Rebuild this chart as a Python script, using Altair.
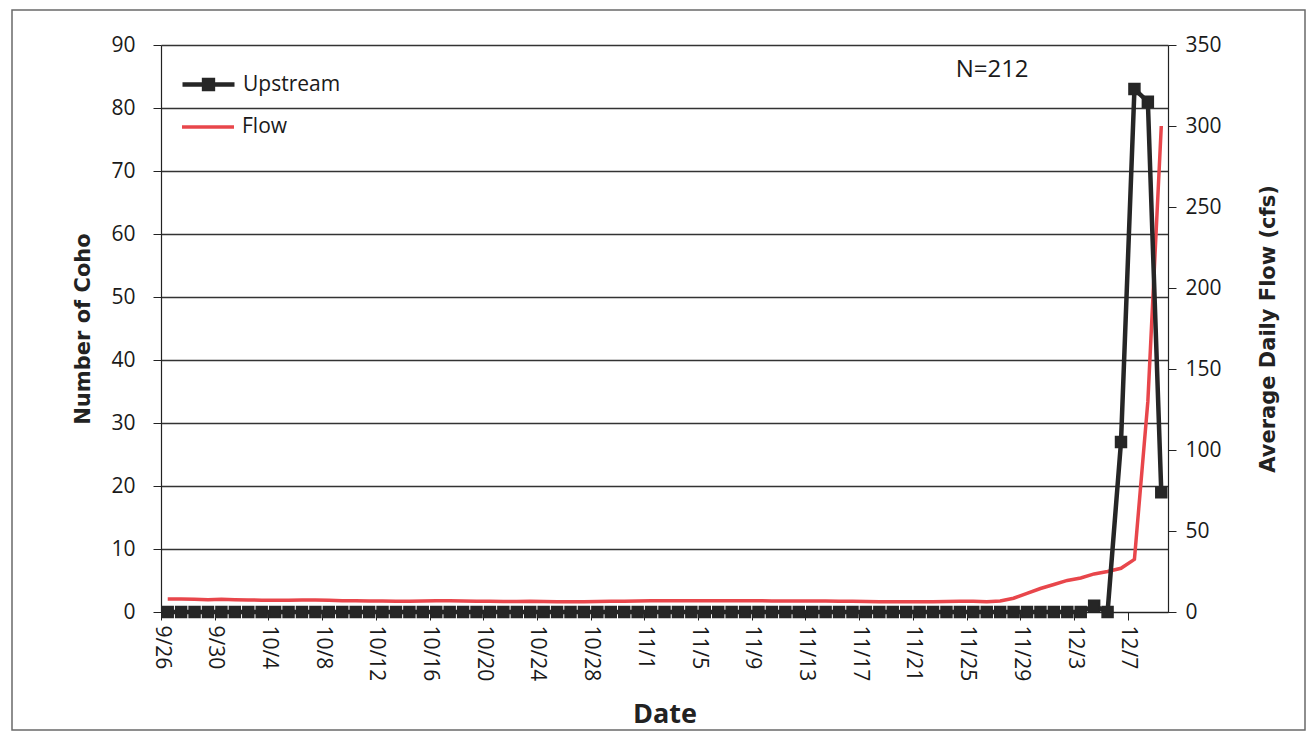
import json
import altair as alt
import pandas as pd

# ---------------- data ----------------
start = pd.Timestamp("2013-09-26")
n_days = 75
dates = [start + pd.Timedelta(days=i) for i in range(n_days)]
date_labels = [f"{d.month}/{d.day}" for d in dates]

upstream = [0] * 69 + [1, 0, 27, 83, 81, 19]

flow = [8.0, 8.0, 7.8, 7.6, 7.8, 7.6, 7.4, 7.3, 7.3, 7.2,
        7.4, 7.4, 7.2, 7.0, 7.0, 6.8, 6.8, 6.7, 6.7, 6.8,
        7.0, 7.0, 6.8, 6.6, 6.6, 6.5, 6.5, 6.6, 6.5, 6.4,
        6.4, 6.4, 6.5, 6.6, 6.7, 6.8, 7.0, 7.0, 7.0, 7.0,
        7.0, 7.0, 7.0, 7.0, 7.0, 6.8, 6.8, 6.8, 6.8, 6.8,
        6.6, 6.6, 6.5, 6.4, 6.4, 6.3, 6.3, 6.4, 6.5, 6.6,
        6.6, 6.4, 6.8, 8.5, 11.5, 14.5, 17.0, 19.5, 21.0, 23.5,
        25.0, 27.0, 32.5, 130.0, 300.0]

tick_days = list(range(0, 73, 4))
tick_labels = [date_labels[i] for i in tick_days]

note_text = ["N=212"]
note_day = [61.9]
note_count = [86]

df = pd.DataFrame({
    "day": [i + 0.5 for i in range(n_days)],   # centre of each daily category
    "date": date_labels,
    "upstream": upstream,
    "flow": flow,
    "s_up": "Upstream",
    "s_flow": "Flow",
})
note_df = pd.DataFrame({"day": note_day, "count": note_count, "text": note_text})

# ---------------- styles ----------------
BLACK = "#262626"
RED = "#e8464b"
FONT = "Open Sans"
TITLE_FONT = "DejaVu Sans"
W, H = 1007, 567

label_expr = json.dumps(tick_labels) + "[round(datum.value / 4)]"

x_enc = alt.X(
    "day:Q",
    scale=alt.Scale(domain=[0, n_days], nice=False, zero=False),
    axis=alt.Axis(
        values=tick_days, labelExpr=label_expr, labelAngle=90,
        labelFont=FONT, labelFontSize=21, labelColor="#1a1a1a", labelPadding=5,
        labelAlign="left", labelBaseline="middle",
        tickSize=8, tickColor="#222", domainColor="#222", domainWidth=1.2,
        grid=False, title="Date", titleFont=FONT, titleFontSize=27,
        titleFontWeight="bold", titleColor="#222",
        titleX=W / 2, titleY=102, titleAlign="center", titleBaseline="middle",
    ),
)

left_axis = alt.Axis(
    values=list(range(0, 91, 10)), grid=True, gridColor="#333333", gridWidth=1.4,
    labelFont=FONT, labelFontSize=21, labelColor="#1a1a1a", labelPadding=18,
    tickSize=8, tickColor="#222", domainColor="#222", domainWidth=1.2,
    title="Number of Coho", titleFont=TITLE_FONT, titleFontSize=21,
    titleFontWeight="bold", titleColor="#222",
    titleX=-78, titleY=H / 2, titleAngle=-90, titleAlign="center", titleBaseline="middle",
)

right_axis = alt.Axis(
    orient="right", values=list(range(0, 351, 50)), grid=False,
    labelFont=FONT, labelFontSize=21, labelColor="#1a1a1a", labelPadding=9,
    tickSize=8, tickColor="#222", domainColor="#222", domainWidth=1.2,
    title="Average Daily Flow (cfs)", titleFont=TITLE_FONT, titleFontSize=21,
    titleFontWeight="bold", titleColor="#222",
    titleX=100, titleY=H / 2, titleAngle=-90, titleAlign="center", titleBaseline="middle",
)

y_left_scale = alt.Scale(domain=[0, 90], nice=False)
y_right_scale = alt.Scale(domain=[0, 350], nice=False)

base = alt.Chart(df)

up_line = base.mark_line(strokeWidth=4.5).encode(
    x=x_enc,
    y=alt.Y("upstream:Q", scale=y_left_scale, axis=left_axis),
    stroke=alt.Stroke(
        "s_up:N",
        scale=alt.Scale(domain=["Upstream"], range=[BLACK]),
        legend=alt.Legend(
            title=None, orient="none", legendX=19, legendY=11, padding=0,
            symbolType="M-1,0H1M-0.17,-0.17H0.17V0.17H-0.17Z", symbolSize=2704,
            symbolStrokeWidth=4.5, symbolFillColor=BLACK,
            labelFont=FONT, labelFontSize=21, labelColor="#1a1a1a", labelOffset=6,
        ),
    ),
)

up_pts = base.mark_square(size=120, color=BLACK, opacity=1, stroke=BLACK, strokeWidth=1.5).encode(
    x=x_enc,
    y=alt.Y("upstream:Q", scale=y_left_scale, axis=left_axis),
)

note = alt.Chart(note_df).mark_text(
    font=FONT, fontSize=24, color="#1a1a1a", align="center", baseline="middle"
).encode(
    x=x_enc,
    y=alt.Y("count:Q", scale=y_left_scale, axis=left_axis),
    text="text:N",
)

flow_line = base.mark_line(strokeWidth=3.5).encode(
    x=x_enc,
    y=alt.Y("flow:Q", scale=y_right_scale, axis=right_axis),
    color=alt.Color(
        "s_flow:N",
        scale=alt.Scale(domain=["Flow"], range=[RED]),
        legend=alt.Legend(
            title=None, orient="none", legendX=19, legendY=54, padding=0,
            symbolType="stroke", symbolSize=2704, symbolStrokeWidth=3.5,
            labelFont=FONT, labelFontSize=21, labelColor="#1a1a1a", labelOffset=6,
        ),
    ),
)

left = alt.layer(up_line, up_pts, note)

frame = alt.Chart(pd.DataFrame({"k": [0]})).mark_rect(
    fill="transparent", stroke="#6a6a6a", strokeWidth=1.5
).encode(
    x=alt.value(-149), x2=alt.value(W + 137),
    y=alt.value(-35), y2=alt.value(H + 118),
)

chart = alt.layer(
    frame, flow_line, left
).resolve_scale(
    y="independent", color="independent", stroke="independent"
).properties(
    width=W, height=H,
    autosize=alt.AutoSizeParams(type="none"),
    padding={"left": 153, "top": 37, "right": 139, "bottom": 121},
).configure_view(stroke="transparent")

chart.save("out.html", embed_options={"renderer": "svg", "actions": False})
